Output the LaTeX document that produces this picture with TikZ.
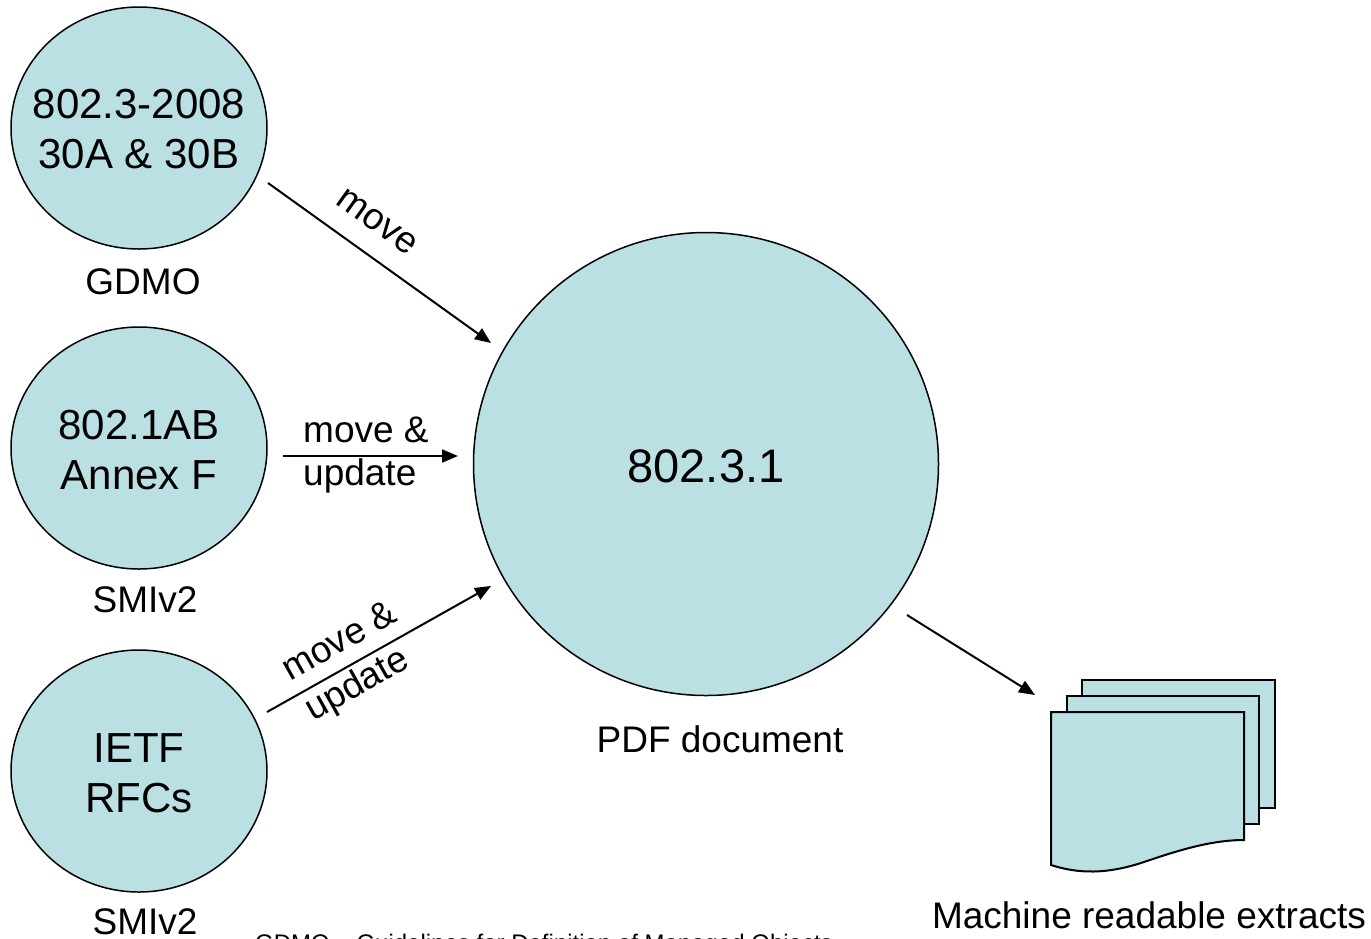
\documentclass[tikz,border=0pt]{standalone}
\usepackage{fontspec}
\setmainfont{Liberation Sans}
\usetikzlibrary{arrows.meta,shapes.geometric}
\definecolor{docblue}{RGB}{187,224,227}
\begin{document}
\begin{tikzpicture}[x=1pt,y=-1pt,
  srccircle/.style={ellipse,draw=black,line width=1.5pt,fill=docblue,minimum width=256pt,minimum height=242pt,inner sep=0pt},
  bigcircle/.style={ellipse,draw=black,line width=1.5pt,fill=docblue,minimum width=465pt,minimum height=463pt,inner sep=0pt},
  intext/.style={anchor=base,inner sep=0pt,font=\fontsize{42}{50}\selectfont},
  bigtext/.style={anchor=base,inner sep=0pt,font=\fontsize{47}{56}\selectfont},
  lbl/.style={anchor=base,inner sep=0pt,font=\fontsize{37}{44}\selectfont},
  lblw/.style={anchor=base west,inner sep=0pt,font=\fontsize{37}{44}\selectfont},
  note/.style={anchor=base west,inner sep=0pt,font=\fontsize{24}{28}\selectfont},
  arr/.style={line width=2pt,-{Triangle[length=16pt,width=13pt]}},
  page/.style={draw=black,line width=2pt,fill=docblue,line join=miter}]
\clip (0,0) rectangle (1371,938);
\fill[white] (0,0) rectangle (1371,938);

% source circles
\node[srccircle] (c1) at (139,128) {};
\node[srccircle] (c2) at (139,448) {};
\node[srccircle] (c3) at (139,771) {};
\node[bigcircle] (big) at (706,464) {};

\node[intext] (t1a) at (139,118) {802.3-2008};
\node[intext] (t1b) at (139,168) {30A \& 30B};
\node[intext] (t2a) at (139,439) {802.1AB};
\node[intext] (t2b) at (139,489) {Annex F};
\node[intext] (t3a) at (139,762) {IETF};
\node[intext] (t3b) at (139,812) {RFCs};
\node[bigtext] (tbig) at (706,482) {802.3.1};

\node[lbl] (l1) at (143,294) {GDMO};
\node[lbl] (l2) at (145,612) {SMIv2};
\node[lbl] (l3) at (145,934) {SMIv2};
\node[lbl] (l4) at (720,752) {PDF document};
\node[lbl] (l5) at (1149,928) {Machine readable extracts};

% document stack
\draw[page] (1082,680) rectangle (1275,808);
\draw[page] (1067,696) rectangle (1259,824);
\draw[page] (1051,712) -- (1244,712) -- (1244,840)
  .. controls (1215,840) and (1185,848) .. (1147,861)
  .. controls (1115,872) and (1085,876) .. (1051,865) -- cycle;
\coordinate (docs) at (1035,695);

% arrows
\coordinate (a1s) at (268,183);
\coordinate (a1e) at (491,343);
\draw[arr] (a1s) -- (a1e);
\node[anchor=center,inner sep=0pt,rotate=-35.6,font=\fontsize{37}{44}\selectfont] (m1) at (377,222) {move};

\coordinate (a2s) at (283,456);
\coordinate (a2e) at (458,456);
\draw[arr] (a2s) -- (a2e);
\node[lblw] (m2a) at (303,442) {move \&};
\node[lblw] (m2b) at (303,485) {update};

\coordinate (a3s) at (267,712);
\coordinate (a3e) at (491,586);
\draw[arr] (a3s) -- (a3e);
\node[lblw,rotate=29.4] (m3a) at (290,682) {move \&};
\node[lblw,rotate=29.4] (m3b) at (313,722) {update};

\coordinate (a4s) at (907,615);
\draw[arr] (a4s) -- (docs);

\node[note] (foot) at (255,951) {GDMO – Guidelines for Definition of Managed Objects};
\end{tikzpicture}
\end{document}
